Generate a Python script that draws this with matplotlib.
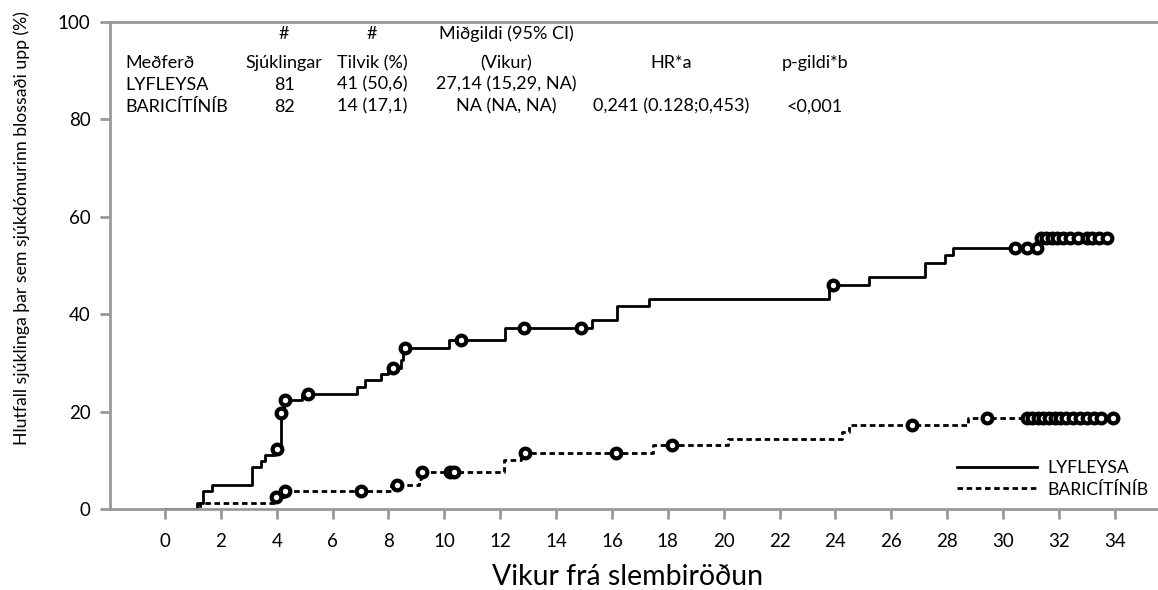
import numpy as np
import matplotlib
matplotlib.use("Agg")
from matplotlib import pyplot as plt

plt.rcParams['font.family'] = ['Lato', 'DejaVu Sans']

# Kaplan-Meier step curves (time in weeks, cumulative %)
plac_t = [0, 1.13, 1.37, 1.67, 3.13, 3.44, 3.58, 3.94, 4.15, 4.25, 4.89, 6.86, 7.16, 7.72,
          8.0, 8.45, 8.52, 10.17, 12.17, 15.28, 16.19, 17.34, 23.77, 25.21, 27.21, 27.93,
          28.22, 31.29, 33.72]
plac_y = [0, 1.3, 3.7, 4.9, 8.6, 9.9, 11.1, 12.3, 19.8, 22.4, 23.7, 25.1, 26.4, 27.7,
          29.0, 30.6, 33.1, 34.6, 37.2, 38.8, 41.7, 43.1, 46.0, 47.7, 50.6, 52.2,
          53.5, 55.6, 55.6]
plac_cens = [4.0, 4.15, 4.3, 5.13, 8.15, 8.6, 10.58, 12.86, 14.89, 23.9, 30.43, 30.85,
             31.21, 31.35, 31.55, 31.75, 31.95, 32.15, 32.4, 32.7, 33.0, 33.2, 33.45, 33.72]

bari_t = [0, 1.25, 3.95, 4.25, 8.1, 9.1, 9.17, 12.14, 12.75, 17.48, 20.17, 24.23, 24.47,
          28.76, 33.95]
bari_y = [0, 1.2, 2.5, 3.7, 4.9, 6.2, 7.5, 10.1, 11.6, 13.1, 14.4, 15.9, 17.2, 18.6, 18.6]
bari_cens = [3.97, 4.3, 7.0, 8.3, 9.2, 10.2, 10.35, 12.89, 16.15, 18.14, 26.73, 29.44,
             30.85, 31.05, 31.25, 31.45, 31.65, 31.85, 32.05, 32.25, 32.5, 32.75, 33.0,
             33.25, 33.5, 33.95]

x_ticks = list(range(0, 35, 2))
y_ticks = [0, 20, 40, 60, 80, 100]

# summary table: header cells (text, column x, row y), then one row per arm
table_header = [("#", 4.26, 97.6), ("#", 7.41, 97.6), ("Miðgildi (95% CI)", 12.21, 97.6),
                ("Sjúklingar", 4.26, 91.5), ("Tilvik (%)", 7.41, 91.5), ("(Vikur)", 12.21, 91.5),
                ("HR*a", 18.13, 91.5), ("p-gildi*b", 23.27, 91.5)]
table_rows = [["LYFLEYSA", "81", "41 (50,6)", "27,14 (15,29, NA)", "", ""],
              ["BARICÍTÍNÍB", "82", "14 (17,1)", "NA (NA, NA)", "0,241 (0.128;0,453)", "<0,001"]]
col_x = [4.26, 7.41, 12.21, 18.13, 23.27]
row_y = [87.1, 82.6]


def value_at(times, values, t):
    i = np.searchsorted(times, t, side='right') - 1
    return np.asarray(values)[i]


fig = plt.figure(figsize=(11.58, 5.90), dpi=100)
ax = fig.add_axes([110 / 1158, 81 / 590, 1048 / 1158, 487 / 590])

dash = (0, (2.0, 1.3))
ax.step(plac_t, plac_y, where='post', color='black', lw=2.0, label='LYFLEYSA')
ax.step(bari_t, bari_y, where='post', color='black', lw=2.0, linestyle=dash,
        label='BARICÍTÍNÍB')
ax.plot(plac_cens, value_at(plac_t, plac_y, plac_cens), 'o', ms=7, mfc='white',
        mec='black', mew=3, ls='none')
ax.plot(bari_cens, value_at(bari_t, bari_y, bari_cens), 'o', ms=7, mfc='white',
        mec='black', mew=3, ls='none')

ax.set_xlim(-1.97, 35.55)
ax.set_ylim(0, 100)
ax.set_xticks(x_ticks)
ax.set_yticks(y_ticks)
ax.tick_params(axis='both', direction='out', length=7, width=2, color='#999999',
               labelsize=13.5)
ax.tick_params(axis='x', pad=10)
ax.tick_params(axis='y', pad=7)
for side in ['left', 'bottom', 'top']:
    ax.spines[side].set_color('#999999')
    ax.spines[side].set_linewidth(2)
ax.spines['right'].set_visible(False)

fs = 13
for txt, x, y in table_header:
    ax.text(x, y, txt, ha='center', va='center', fontsize=fs)
ax.text(-1.43, 91.5, "Meðferð", ha='left', va='center', fontsize=fs)
for row, y in zip(table_rows, row_y):
    ax.text(-1.43, y, row[0], ha='left', va='center', fontsize=fs)
    for txt, x in zip(row[1:], col_x):
        ax.text(x, y, txt, ha='center', va='center', fontsize=fs)

ax.legend(loc='upper left', bbox_to_anchor=(0.808, 0.10), frameon=False, fontsize=12.6,
          handlelength=4.6, handletextpad=0.55, labelspacing=0.3, borderpad=0,
          borderaxespad=0)

fig.text(628 / 1158, 1 - 577 / 590, "Vikur frá slembiröðun", ha='center', va='center',
         fontsize=20.5)
fig.text(22 / 1158, 1 - 228 / 590, "Hlutfall sjúklinga þar sem sjúkdómurinn blossaði upp (%)",
         ha='center', va='center', rotation=90, fontsize=12.7)

fig.savefig("out.png", dpi=100)
